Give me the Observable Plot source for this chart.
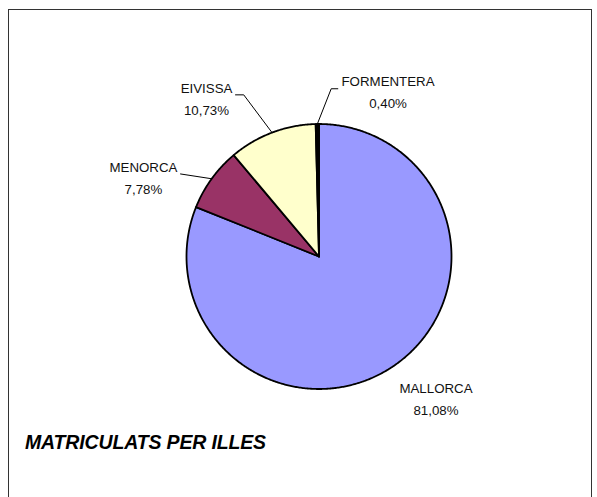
<!DOCTYPE html>
<html>
<head>
<meta charset="utf-8">
<script src="https://cdn.jsdelivr.net/npm/d3@7"></script>
<script src="https://cdn.jsdelivr.net/npm/@observablehq/plot@0.6"></script>
<style>
  html, body { margin: 0; padding: 0; background: #fff; }
  #wrap { position: relative; width: 597px; height: 497px; overflow: hidden; background: #fff; }
  #frame { position: absolute; left: 8px; top: 8.5px; width: 584px; height: 520px;
           border-top: 1.6px solid #333; border-left: 1.6px solid #333; border-right: 1.6px solid #333; box-sizing: border-box; }
  #chart { position: absolute; left: 0; top: 0; }
  #title { position: absolute; left: 25px; top: 431px; line-height: 19px; font: bold italic 19.5px 'Liberation Sans', Arial, sans-serif;
           letter-spacing: -0.15px; color: #000; white-space: nowrap; }
</style>
</head>
<body>
<div id="wrap">
  <div id="frame"></div>
  <div id="chart"></div>
  <div id="title"></div>
</div>
<script>
// ---- data ----
const slices = ["MALLORCA", "MENORCA", "EIVISSA", "FORMENTERA"];
const percents = [81.08, 7.78, 10.73, 0.40];
const sliceColors = ["#9999FF", "#993366", "#FFFFCC", "#000000"];
const chartTitle = "MATRICULATS PER ILLES";

// ---- layout (pie units: radius = 1, centre = 0,0) ----
const labelPos = [[0.883, -1.060], [-1.325, 0.606], [-0.849, 1.201], [0.521, 1.257]];
const leaderBends = [null, [[-1.045, 0.623]], [[-0.568, 1.220], [-0.630, 1.220]], [[0.092, 1.266], [0.142, 1.266]]];

const fmt = v => d3.format(".2f")(v).replace(".", ",") + "%";
const total = d3.sum(percents);

const piePts = [];
const leaderPts = [];
let acc = 0;
slices.forEach((name, i) => {
  const a0 = acc / total * 2 * Math.PI;
  acc += percents[i];
  const a1 = acc / total * 2 * Math.PI;
  piePts.push({slice: name, x: 0, y: 0});
  const n = Math.max(2, Math.ceil((a1 - a0) / (Math.PI / 360)));
  for (let k = 0; k <= n; k++) {
    const t = a0 + (a1 - a0) * k / n;
    piePts.push({slice: name, x: Math.sin(t), y: Math.cos(t)});
  }
  piePts.push({slice: name, x: 0, y: 0});
  if (leaderBends[i]) {
    const m = (a0 + a1) / 2;
    leaderPts.push({slice: name, x: Math.sin(m), y: Math.cos(m)});
    leaderBends[i].forEach(([x, y]) => leaderPts.push({slice: name, x, y}));
  }
});

const labels = slices.map((name, i) => ({slice: name, x: labelPos[i][0], y: labelPos[i][1], text: name + "\n" + fmt(percents[i])}));

const chart = Plot.plot({
  width: 597,
  height: 497,
  marginLeft: 186,
  marginRight: 146,
  marginTop: 123.5,
  marginBottom: 108.5,
  x: {domain: [-1, 1], axis: null},
  y: {domain: [-1, 1], axis: null},
  color: {domain: slices, range: sliceColors},
  style: {fontFamily: "'Liberation Sans', Arial, sans-serif", background: "transparent", overflow: "visible"},
  marks: [
    Plot.line(piePts, {x: "x", y: "y", z: "slice", fill: "slice", stroke: "#000", strokeWidth: 1.8, strokeLinejoin: "round", curve: "linear"}),
    Plot.line(leaderPts, {x: "x", y: "y", z: "slice", stroke: "#000", strokeWidth: 1, curve: "linear"}),
    Plot.text(labels, {x: "x", y: "y", text: "text", fontSize: 13.3, lineHeight: 1.65, fill: "#111", textAnchor: "middle"})
  ]
});
document.getElementById("chart").appendChild(chart);
document.getElementById("title").textContent = chartTitle;
</script>
</body>
</html>
